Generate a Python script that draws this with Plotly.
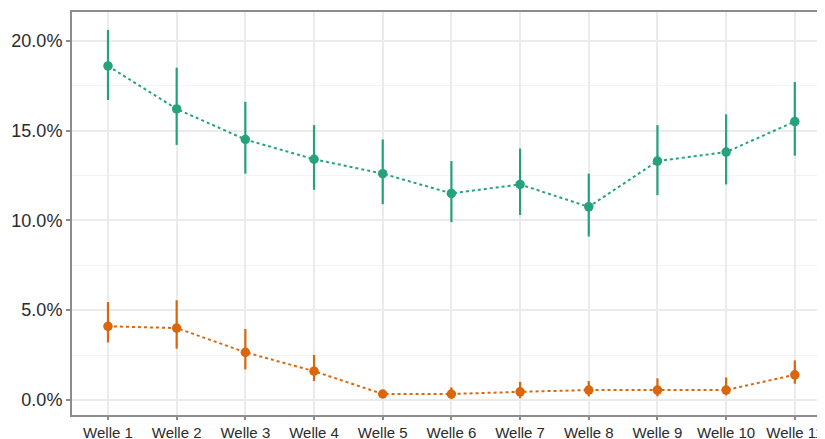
import plotly.graph_objects as go

waves = ["Welle 1", "Welle 2", "Welle 3", "Welle 4", "Welle 5", "Welle 6",
         "Welle 7", "Welle 8", "Welle 9", "Welle 10", "Welle 11"]

green_val = [18.6, 16.2, 14.5, 13.4, 12.6, 11.5, 12.0, 10.75, 13.3, 13.8, 15.5]
green_hi = [20.6, 18.5, 16.6, 15.3, 14.5, 13.3, 14.0, 12.6, 15.3, 15.9, 17.7]
green_lo = [16.7, 14.2, 12.6, 11.7, 10.9, 9.9, 10.3, 9.1, 11.4, 12.0, 13.6]

orange_val = [4.1, 4.0, 2.65, 1.6, 0.33, 0.33, 0.45, 0.55, 0.55, 0.55, 1.4]
orange_hi = [5.45, 5.55, 3.95, 2.5, 0.5, 0.7, 1.0, 1.05, 1.2, 1.25, 2.2]
orange_lo = [3.2, 2.85, 1.7, 1.05, 0.15, 0.05, 0.1, 0.2, 0.2, 0.25, 0.9]

y_ticks = [0, 5, 10, 15, 20]
y_ticklabels = ["0.0%", "5.0%", "10.0%", "15.0%", "20.0%"]

GREEN = "#1b9e77"
ORANGE = "#d95f02"

fig = go.Figure()

for vals, hi, lo, col in [(green_val, green_hi, green_lo, GREEN),
                          (orange_val, orange_hi, orange_lo, ORANGE)]:
    fig.add_trace(go.Scatter(
        x=waves, y=vals, mode="lines+markers",
        line=dict(color=col, width=2, dash="dot"),
        marker=dict(color=col, size=9.5),
        opacity=0.95,
        error_y=dict(type="data", symmetric=False,
                     array=[h - v for h, v in zip(hi, vals)],
                     arrayminus=[v - l for v, l in zip(vals, lo)],
                     color=col, thickness=2.2, width=0),
        showlegend=False,
    ))

fig.update_layout(
    width=825, height=439,
    margin=dict(l=64, r=0, t=4, b=32),
    paper_bgcolor="white", plot_bgcolor="white",
    font=dict(family="Liberation Sans, Arial, sans-serif", color="#333333"),
)

fig.update_xaxes(
    type="category", range=[-0.524, 10.556], automargin=False,
    showgrid=True, gridcolor="#ebebeb", gridwidth=1.5,
    showline=True, linecolor="#8c8c8c", linewidth=2, mirror=True,
    ticks="outside", ticklen=3, tickcolor="#8c8c8c", tickwidth=1.5,
    tickfont=dict(size=15, color="#2b2b2b"),
    zeroline=False,
)

fig.update_yaxes(
    range=[-0.84, 21.6], automargin=False,
    tickvals=y_ticks, ticktext=y_ticklabels,
    showgrid=True, gridcolor="#ebebeb", gridwidth=1.5,
    minor=dict(tick0=2.5, dtick=5, showgrid=True, gridcolor="#f3f3f3", gridwidth=1),
    showline=True, linecolor="#8c8c8c", linewidth=2,
    ticks="outside", ticklen=4, tickcolor="#8c8c8c", tickwidth=1.5,
    tickfont=dict(size=18, color="#2b2b2b"),
    zeroline=False,
)

fig.write_html("out.html")
